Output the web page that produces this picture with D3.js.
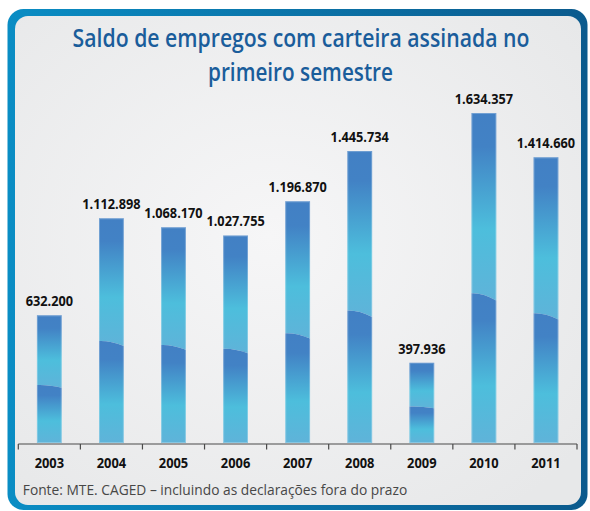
<!DOCTYPE html>
<html><head><meta charset="utf-8">
<script src="https://cdn.jsdelivr.net/npm/d3@7"></script>
<style>body{margin:0;background:#fff}svg{display:block}</style>
</head><body>
<script>
const years = ["2003","2004","2005","2006","2007","2008","2009","2010","2011"];
const saldo = [632200,1112898,1068170,1027755,1196870,1445734,397936,1634357,1414660];
const titleLines = ["Saldo de empregos com carteira assinada no","primeiro semestre"];
const sourceText = "Fonte: MTE. CAGED \u2013 incluindo as declarações fora do prazo";

const W=590,H=511;
const svg=d3.select("body").append("svg").attr("width",W).attr("height",H);
const defs=svg.append("defs");

const fg=defs.append("linearGradient").attr("id","frame").attr("x1","0").attr("x2","1").attr("y1","0").attr("y2","0");
fg.append("stop").attr("offset","0").attr("stop-color","#0a8dc4");
fg.append("stop").attr("offset","1").attr("stop-color","#0b5a8d");
const bg=defs.append("radialGradient").attr("id","panel").attr("cx","0.45").attr("cy","0.45").attr("r","0.7");
bg.append("stop").attr("offset","0").attr("stop-color","#f6f6f7");
bg.append("stop").attr("offset","1").attr("stop-color","#e7e8e9");
const sg=defs.append("linearGradient").attr("id","seg").attr("x1","0").attr("x2","0").attr("y1","0").attr("y2","1");
[[0,"#4280c4"],[0.18,"#4282c5"],[0.62,"#4dbedc"],[1,"#5fb3d9"]].forEach(([o,c])=>sg.append("stop").attr("offset",o).attr("stop-color",c));

svg.append("rect").attr("x",7.5).attr("y",9).attr("width",580).attr("height",501).attr("rx",16).attr("fill","url(#frame)");
svg.append("rect").attr("x",15).attr("y",16).attr("width",566).attr("height",489).attr("rx",13).attr("fill","url(#panel)");

// horizontally condense a centred text to a target width
function squeeze(sel,cx,cy,len){
  const n=sel.node().getComputedTextLength();
  const k=Math.min(1,len/n);
  sel.attr("x",0).attr("y",0).attr("transform",`translate(${cx},${cy}) scale(${k},1)`);
}

const t1=svg.append("text").attr("text-anchor","middle")
  .attr("font-family","Open Sans").attr("font-weight",600).attr("font-size",24.5).attr("fill","#1a5d9b").text(titleLines[0]);
squeeze(t1,301,47,457);
const t2=svg.append("text").attr("text-anchor","middle")
  .attr("font-family","Open Sans").attr("font-weight",600).attr("font-size",24.5).attr("fill","#1a5d9b").text(titleLines[1]);
squeeze(t2,300.5,81,185);

const x=d3.scaleBand().domain(years).range([18.3,577]).paddingInner(0.6).paddingOuter(0.3);
const y=d3.scaleLinear().domain([0,d3.max(saldo)]).range([443,113]);
const fmt=d3.formatLocale({decimal:",",thousands:".",grouping:[3],currency:["R$",""]}).format(",d");

const g=svg.append("g");
years.forEach((yr,i)=>{
  const v=saldo[i], x0=x(yr), bw=x.bandwidth(), top=y(v), bot=y(0), h=bot-top;
  const yl=top+h*0.546, yr2=top+h*0.568;
  g.append("path").attr("d",`M${x0},${top}H${x0+bw}V${yr2}Q${x0+bw*0.45},${yl-0.5} ${x0},${yl}Z`)
   .attr("fill","url(#seg)");
  g.append("path").attr("d",`M${x0},${yl}Q${x0+bw*0.45},${yl-0.5} ${x0+bw},${yr2}V${bot}H${x0}Z`)
   .attr("fill","url(#seg)");
  g.append("rect").attr("x",x0+0.5).attr("y",top+0.5).attr("width",bw-1).attr("height",h-1)
   .attr("fill","none").attr("stroke","#ffffff").attr("stroke-opacity",0.25);
  const lab=g.append("text").attr("text-anchor","middle")
   .attr("font-family","Open Sans").attr("font-weight","bold").attr("font-size",14.5).attr("fill","#111").text(fmt(v));
  squeeze(lab,x0+bw/2,top-9,lab.node().getComputedTextLength()*0.88);
});

const ax=svg.append("g");
ax.append("line").attr("x1",18.3).attr("x2",577).attr("y1",444).attr("y2",444).attr("stroke","#4a4a4a").attr("stroke-width",1.2);
const bounds=years.map((d,i)=>18.3+i*x.step());
bounds.push(577);
bounds.forEach(b=>ax.append("line").attr("x1",b).attr("x2",b).attr("y1",444).attr("y2",449.5).attr("stroke","#4a4a4a").attr("stroke-width",1.2));
years.forEach(yr=>{
  const t=ax.append("text").attr("text-anchor","middle")
   .attr("font-family","Open Sans").attr("font-weight","bold").attr("font-size",14).attr("fill","#111").text(yr);
  squeeze(t,x(yr)+x.bandwidth()/2,468,t.node().getComputedTextLength()*0.92);
});

const src=svg.append("text").attr("text-anchor","middle").attr("font-family","Open Sans").attr("font-size",14)
  .attr("fill","#474747").text(sourceText);
squeeze(src,22.5+385/2,495,385);
</script>
</body></html>
